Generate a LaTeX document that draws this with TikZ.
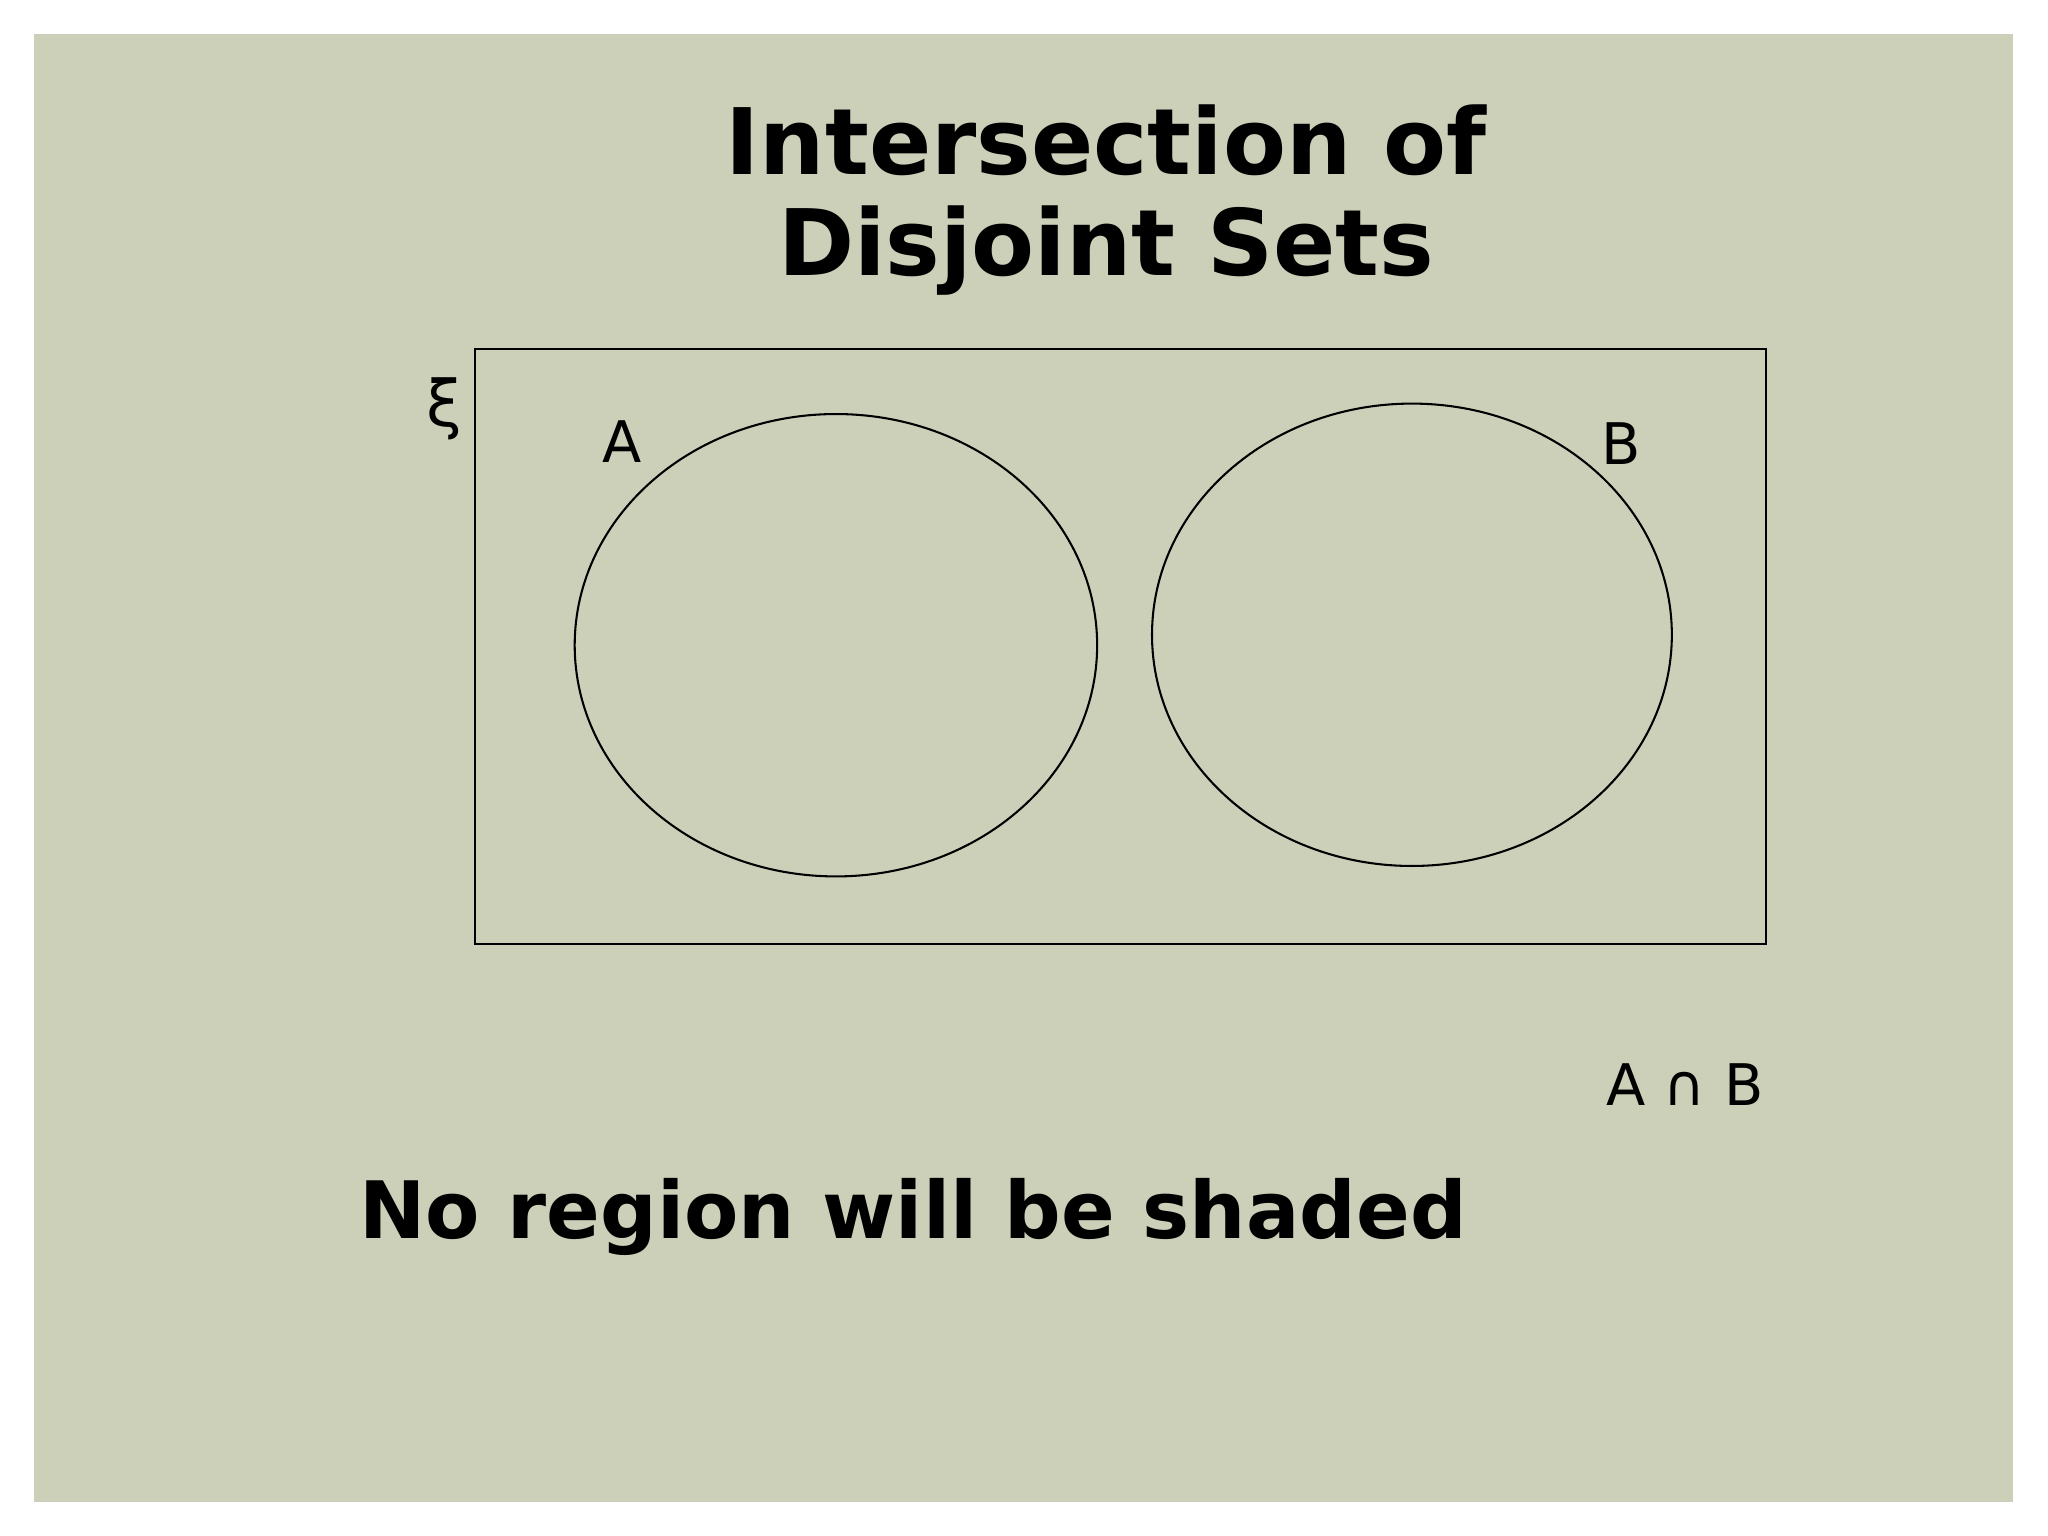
\documentclass[tikz,border=0pt]{standalone}
\usepackage{fontspec}
\setmainfont{DejaVu Sans}
\definecolor{bg}{HTML}{CDD0B9}
\begin{document}
\begin{tikzpicture}[x=0.02cm,y=-0.02cm,
  lbl/.style={inner sep=0pt,font=\fontsize{25}{30}\selectfont}]
\useasboundingbox (0,0) rectangle (1568,1176);
\fill[white] (0,0) rectangle (1568,1176);
\fill[bg] (26,26) rectangle (1541,1150);
\node[align=center,font=\bfseries\fontsize{40}{44}\selectfont] (title) at (847,153) {Intersection of\\Disjoint Sets};
\draw[line width=0.9pt] (364,267) rectangle (1352,723);
\draw[line width=0.9pt] (640,494) ellipse [x radius=200, y radius=177];
\draw[line width=0.9pt] (1081,486) ellipse [x radius=199, y radius=177];
\node[inner sep=0pt,font=\fontsize{28}{30}\selectfont] (xi) at (340,313) {ξ};
\node[lbl] (a) at (476,338) {A};
\node[lbl] (b) at (1241,340) {B};
\node[lbl] (ab) at (1290,830) {A ∩ B};
\node[anchor=west,inner sep=0pt,font=\bfseries\fontsize{34.5}{38}\selectfont] (note) at (275,932) {No region will be shaded};
\end{tikzpicture}
\end{document}
